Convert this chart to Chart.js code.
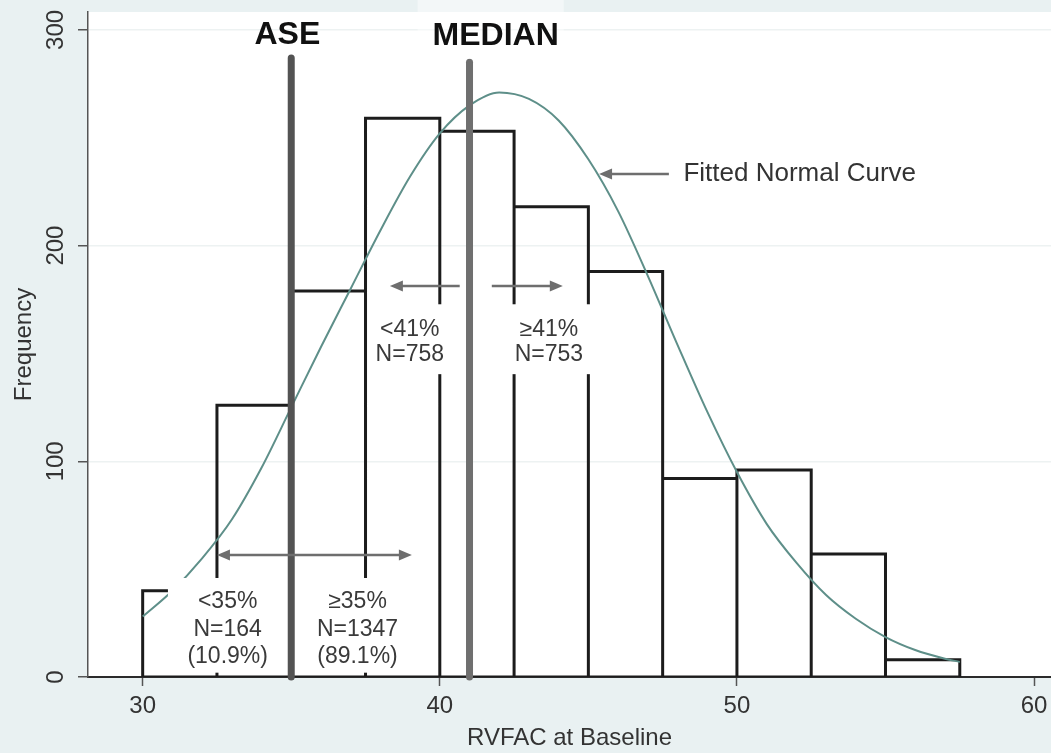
<!DOCTYPE html>
<html>
<head>
<meta charset="utf-8">
<script src="https://cdn.jsdelivr.net/npm/chart.js@4.4.1/dist/chart.umd.min.js"></script>
<style>
  html, body { margin: 0; padding: 0; background: #e9f1f2; }
  canvas { display: block; }
</style>
</head>
<body>
<canvas id="chart" width="1051" height="753"></canvas>
<script>
// RVFAC at baseline: histogram (bin width 2.5) with a fitted normal curve

const binEdges = [30, 32.5, 35, 37.5, 40, 42.5, 45, 47.5, 50, 52.5, 55, 57.5];
const frequencies = [40, 126, 179, 259, 253, 218, 188, 92, 96, 57, 8];

const curveRvfac = [30, 31, 32, 33, 34, 35, 36, 37, 38, 39, 40, 41, 42, 43, 44,
                    45, 46, 47, 48, 49, 50, 51, 52, 53, 54, 55, 56, 57, 57.5];
const curveFrequency = [28, 40, 55, 73, 97, 125, 153, 180, 207, 232, 252, 265, 271, 268, 258,
                        240, 216, 186, 154, 123, 95, 71, 53, 38, 27, 18.5, 12.5, 8.5, 7];

const xTicks = [30, 40, 50, 60];
const yTicks = [0, 100, 200, 300];

const aseCutoff = 35;
const medianRvfac = 41;
const aseLineTop = 287;
const medianLineTop = 285;

const belowAseText = ['<35%', 'N=164', '(10.9%)'];
const aboveAseText = ['\u226535%', 'N=1347', '(89.1%)'];
const belowMedianText = ['<41%', 'N=758'];
const aboveMedianText = ['\u226541%', 'N=753'];

const FONT = '"Liberation Sans", Arial, Helvetica, sans-serif';

// histogram outline: baseline, then each bin as left edge / top / right edge
const outline = [{ x: binEdges[binEdges.length - 1], y: 0 }, { x: binEdges[0], y: 0 }];
frequencies.forEach((f, i) => {
  outline.push({ x: binEdges[i], y: 0 }, { x: binEdges[i], y: f },
               { x: binEdges[i + 1], y: f }, { x: binEdges[i + 1], y: 0 });
});
const curvePoints = curveRvfac.map((x, i) => ({ x, y: curveFrequency[i] }));

// annotation layout, in data units
const maskBoxes = [
  { x0: 30.85, x1: 34.87, y0: 2, y1: 45.9 },
  { x0: 35.15, x1: 39.8, y0: 2, y1: 45.9 },
  { x0: 37.6, x1: 40.85, y0: 140.4, y1: 172.8 },
  { x0: 41.3, x1: 45.65, y0: 140.4, y1: 172.8 }
];
const textBlocks = [
  { lines: belowAseText, x: 32.86, y: 34.8, step: 27.5 },
  { lines: aboveAseText, x: 37.23, y: 34.8, step: 27.5 },
  { lines: belowMedianText, x: 38.99, y: 160.9, step: 25 },
  { lines: aboveMedianText, x: 43.67, y: 160.9, step: 25 }
];
const arrows = [
  { x0: 39.06, x1: 32.5, y: 56.6, both: true },
  { x0: 40.67, x1: 38.32, y: 181.3, both: false },
  { x0: 41.75, x1: 44.14, y: 181.3, both: false },
  { x0: 47.71, x1: 45.36, y: 233.2, both: false }
];

function arrowHead(ctx, x, y, dir) {
  ctx.beginPath();
  ctx.moveTo(x, y);
  ctx.lineTo(x - dir * 13, y - 5.5);
  ctx.lineTo(x - dir * 13, y + 5.5);
  ctx.closePath();
  ctx.fill();
}

const backgroundPlugin = {
  id: 'panelBackground',
  beforeDraw(chart) {
    const { ctx, chartArea: a } = chart;
    ctx.save();
    ctx.fillStyle = '#e9f1f2';
    ctx.fillRect(0, 0, chart.width, chart.height);
    ctx.fillStyle = '#ffffff';
    ctx.fillRect(a.left, a.top, a.right - a.left, a.bottom - a.top);
    ctx.restore();
  }
};

const annotationPlugin = {
  id: 'groupAnnotations',
  afterDatasetDraw(chart, args) {
    if (chart.data.datasets[args.index].label !== 'Fitted normal curve') return;
    const { ctx, scales: { x, y } } = chart;
    ctx.save();
    ctx.fillStyle = '#ffffff';
    maskBoxes.forEach(b => {
      const l = x.getPixelForValue(b.x0), r = x.getPixelForValue(b.x1);
      const t = y.getPixelForValue(b.y1), btm = y.getPixelForValue(b.y0);
      ctx.fillRect(l, t, r - l, btm - t);
    });
    ctx.restore();
  },
  afterDatasetsDraw(chart) {
    const { ctx, scales: { x, y } } = chart;
    ctx.save();

    // arrows
    ctx.strokeStyle = '#6e6e6e';
    ctx.fillStyle = '#6e6e6e';
    ctx.lineWidth = 2.5;
    arrows.forEach(a => {
      const px0 = x.getPixelForValue(a.x0), px1 = x.getPixelForValue(a.x1);
      const py = y.getPixelForValue(a.y);
      const dir = Math.sign(px1 - px0);
      ctx.beginPath();
      ctx.moveTo(a.both ? px0 + dir * 8 : px0, py);
      ctx.lineTo(px1 - dir * 8, py);
      ctx.stroke();
      arrowHead(ctx, px1, py, dir);
      if (a.both) arrowHead(ctx, px0, py, -dir);
    });

    // group counts
    ctx.fillStyle = '#3a3a3a';
    ctx.font = '23px ' + FONT;
    ctx.textAlign = 'center';
    ctx.textBaseline = 'middle';
    textBlocks.forEach(tb => {
      const px = x.getPixelForValue(tb.x), py = y.getPixelForValue(tb.y);
      tb.lines.forEach((line, i) => ctx.fillText(line, px, py + i * tb.step));
    });

    // curve caption
    ctx.textAlign = 'left';
    ctx.font = '26px ' + FONT;
    ctx.fillStyle = '#333333';
    ctx.fillText('Fitted Normal Curve', x.getPixelForValue(48.2), y.getPixelForValue(233.2));

    // reference line captions
    ctx.font = 'bold 32px ' + FONT;
    ctx.textAlign = 'center';
    const mx = x.getPixelForValue(41.88), my = y.getPixelForValue(297.2);
    const mw = ctx.measureText('MEDIAN').width;
    ctx.fillStyle = 'rgba(255,255,255,0.45)';
    ctx.fillRect(mx - mw / 2 - 15, 0, mw + 20, my + 23);
    ctx.fillStyle = '#111111';
    ctx.fillText('MEDIAN', mx, my);
    ctx.fillText('ASE', x.getPixelForValue(34.87), y.getPixelForValue(297.7));
    ctx.restore();
  }
};

new Chart(document.getElementById('chart'), {
  type: 'line',
  data: {
    datasets: [
      {
        label: 'Histogram',
        data: outline,
        order: 4,
        borderColor: '#1c1c1c',
        borderWidth: 3,
        borderJoinStyle: 'miter',
        fill: false,
        tension: 0,
        pointRadius: 0
      },
      {
        label: 'Fitted normal curve',
        data: curvePoints,
        order: 3,
        borderColor: '#5e8f89',
        borderWidth: 2,
        fill: false,
        cubicInterpolationMode: 'monotone',
        pointRadius: 0
      },
      {
        label: 'ASE',
        data: [{ x: aseCutoff, y: 0 }, { x: aseCutoff, y: aseLineTop }],
        order: 2,
        borderColor: '#535353',
        borderWidth: 7,
        borderCapStyle: 'round',
        clip: false,
        pointRadius: 0
      },
      {
        label: 'Median',
        data: [{ x: medianRvfac, y: 0 }, { x: medianRvfac, y: medianLineTop }],
        order: 1,
        borderColor: '#6f6f6f',
        borderWidth: 7,
        borderCapStyle: 'round',
        clip: false,
        pointRadius: 0
      }
    ]
  },
  options: {
    responsive: false,
    animation: false,
    devicePixelRatio: 1,
    layout: { padding: { top: 12, left: 0, right: 0, bottom: 0 } },
    plugins: { legend: { display: false }, tooltip: { enabled: false } },
    elements: { point: { radius: 0 } },
    scales: {
      x: {
        type: 'linear',
        min: 28.16,
        max: 60.57,
        afterBuildTicks: s => { s.ticks = xTicks.map(v => ({ value: v })); },
        afterFit: s => { s.height = 76; s.paddingLeft = 0; s.paddingRight = 0; },
        grid: { drawOnChartArea: false, tickLength: 9, tickColor: '#555555', tickWidth: 1.5 },
        border: { color: '#2b2b2b', width: 2 },
        ticks: { padding: 6, color: '#333333', font: { family: FONT, size: 24 }, maxRotation: 0 },
        title: {
          display: true, text: 'RVFAC at Baseline', color: '#333333',
          font: { family: FONT, size: 24, lineHeight: 1.2 }, padding: { top: 0, bottom: 0 }
        }
      },
      y: {
        type: 'linear',
        min: 0,
        max: 308.3,
        afterBuildTicks: s => { s.ticks = yTicks.map(v => ({ value: v })); },
        afterFit: s => { s.width = 88; s.paddingTop = 0; s.paddingBottom = 0; },
        grid: { color: '#edf2f2', lineWidth: 1.5, tickLength: 10, tickColor: '#555555', tickWidth: 1.5 },
        border: { color: '#555555', width: 1.5 },
        ticks: {
          minRotation: 90, maxRotation: 90, crossAlign: 'center', padding: 2,
          color: '#333333', font: { family: FONT, size: 24 }
        },
        title: {
          display: true, text: 'Frequency', color: '#333333',
          font: { family: FONT, size: 24, lineHeight: 1.2 }, padding: { top: 10, bottom: 0 }
        }
      }
    }
  },
  plugins: [backgroundPlugin, annotationPlugin]
});
</script>
</body>
</html>
